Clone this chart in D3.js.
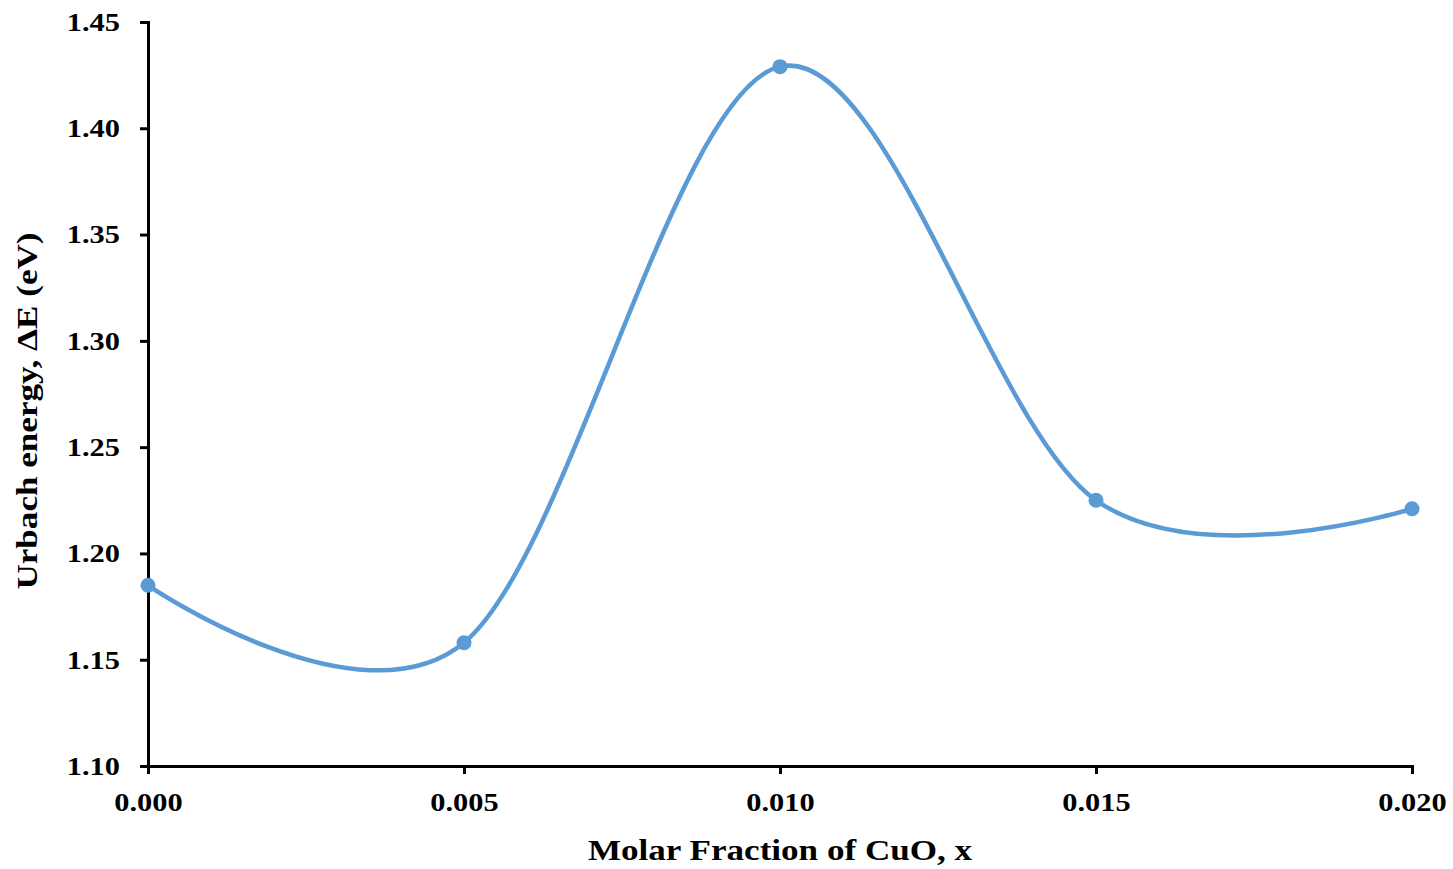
<!DOCTYPE html>
<html>
<head>
<meta charset="utf-8">
<script src="https://cdn.jsdelivr.net/npm/d3@7"></script>
<style>
body{margin:0;background:#fff;}
text{font-family:"Liberation Serif","Times New Roman",serif;font-weight:bold;}
</style>
</head>
<body>
<div id="svg"></div>
<script>
// data
var xValues=[0,0.005,0.010,0.015,0.020];
var yValues=[1.185,1.158,1.429,1.225,1.221];
var xTicks=[0,0.005,0.010,0.015,0.020];
var yTicks=[1.10,1.15,1.20,1.25,1.30,1.35,1.40,1.45];

var width=1453,height=869;
var margin={top:22,left:148,right:41,bottom:103};
var sx=1.17; // text in the picture is a bit wide

var svg=d3.select("#svg").append("svg").attr("width",width).attr("height",height);

var x=d3.scaleLinear().domain([0,0.020]).range([margin.left,width-margin.right]);
var y=d3.scaleLinear().domain([1.10,1.45]).range([height-margin.bottom,margin.top]);

var xAxis=svg.append("g").attr("transform","translate(0,"+(height-margin.bottom)+")")
.call(d3.axisBottom(x).tickValues(xTicks).tickFormat(d3.format(".3f")).tickSizeOuter(0).tickSize(8).tickPadding(19));
var yAxis=svg.append("g").attr("transform","translate("+margin.left+",0)")
.call(d3.axisLeft(y).tickValues(yTicks).tickFormat(d3.format(".2f")).tickSizeOuter(0).tickSize(8).tickPadding(20));

[xAxis,yAxis].forEach(function(g){
  g.select(".domain").attr("stroke","#000").attr("stroke-width",3);
  g.selectAll(".tick line").attr("stroke","#000").attr("stroke-width",3);
  g.selectAll(".tick text").attr("fill","#000").style("font-size","26px")
   .style("font-family","'Liberation Serif',serif").style("font-weight","bold");
});
xAxis.selectAll(".tick text").attr("transform","scale("+sx+",1)");
yAxis.selectAll(".tick text").attr("x",-28/sx).attr("transform","scale("+sx+",1)");

var pts=xValues.map(function(d,i){return [d,yValues[i]];});

// excel style smoothing
var line=d3.line().x(d=>x(d[0])).y(d=>y(d[1])).curve(d3.curveCatmullRom.alpha(0));
svg.append("path").datum(pts).attr("d",line).attr("fill","none")
.attr("stroke","#5B9BD5").attr("stroke-width",4.5);

svg.selectAll("circle").data(pts).enter().append("circle")
.attr("cx",d=>x(d[0])).attr("cy",d=>y(d[1])).attr("r",7.5).attr("fill","#5B9BD5");

svg.append("text").attr("transform","translate("+(x(0)+x(0.02))/2+",860) scale("+sx+",1)").attr("text-anchor","middle")
.style("font-size","30px").text("Molar Fraction of CuO, x");

svg.append("text").attr("transform","translate(37,411) rotate(-90) scale("+sx+",1)").attr("text-anchor","middle")
.style("font-size","30px").text("Urbach energy, ΔE (eV)");
</script>
</body>
</html>
